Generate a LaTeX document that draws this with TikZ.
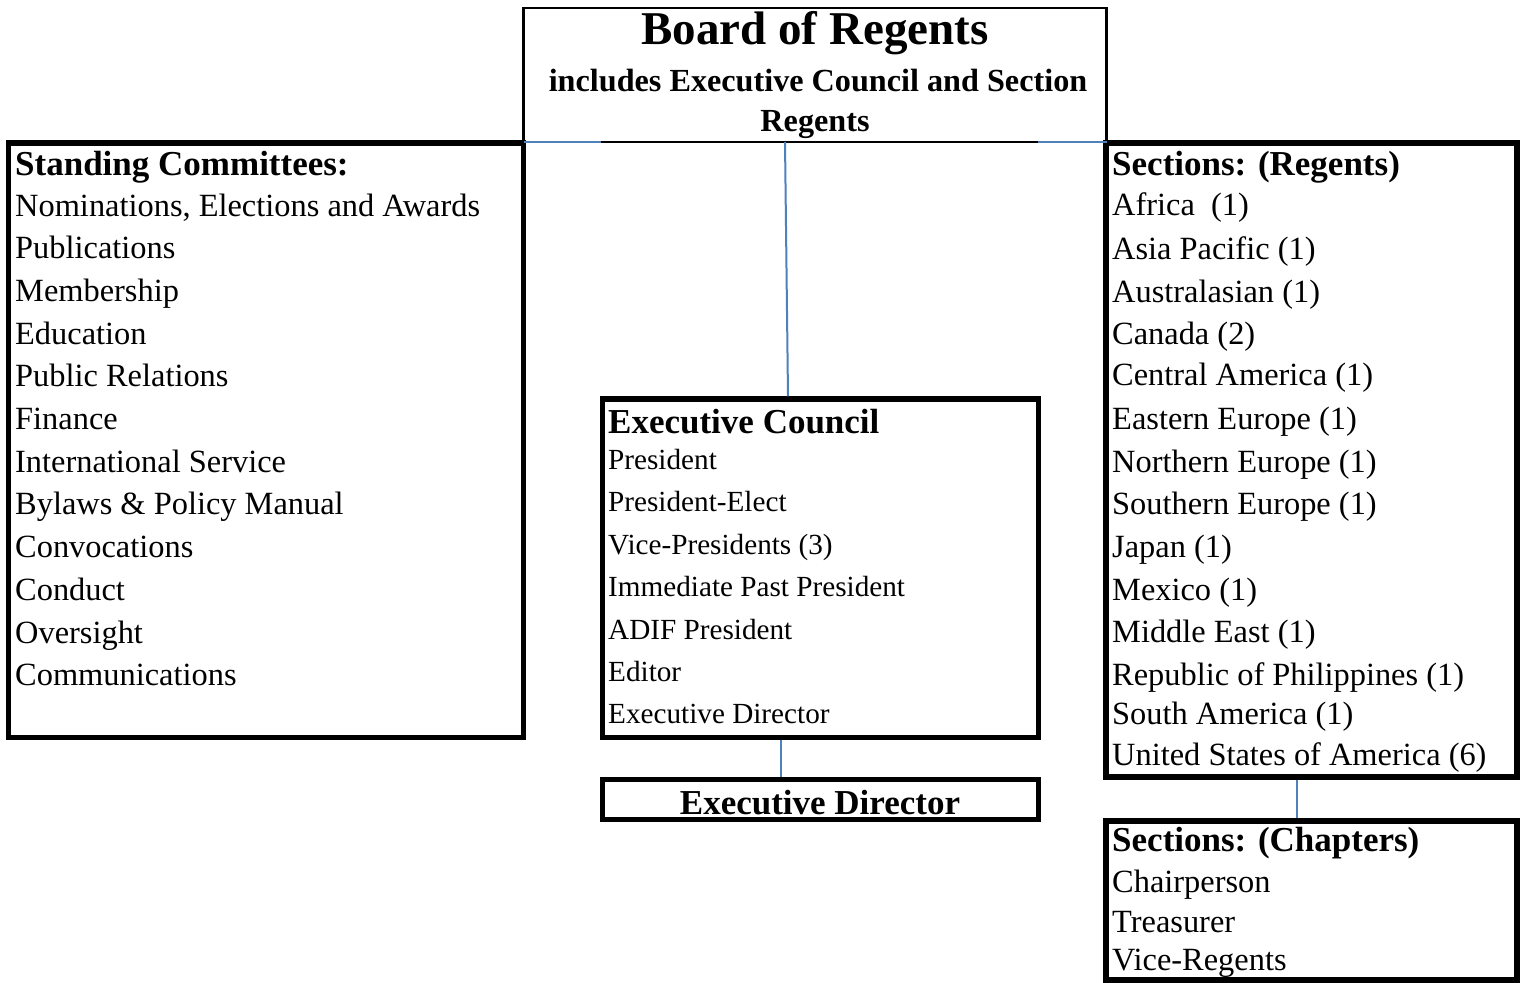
\documentclass[tikz,border=0pt]{standalone}
\usepackage{fontspec}
\setmainfont{Liberation Serif}
\definecolor{linkblue}{HTML}{4F81BD}
\begin{document}
\begin{tikzpicture}[x=1pt,y=-1pt,
  box/.style={draw=black,line width=5.5pt,inner sep=0pt,outer sep=0pt,anchor=north west},
  thinbox/.style={draw=black,line width=2.5pt,inner sep=0pt,outer sep=0pt,anchor=north west},
  link/.style={draw=linkblue,line width=2pt},
  item/.style={anchor=base west,inner sep=0pt,font=\fontsize{32.4}{38}\selectfont},
  eitem/.style={anchor=base west,inner sep=0pt,font=\fontsize{29.2}{35}\selectfont},
  head/.style={anchor=base west,inner sep=0pt,font=\fontsize{35}{42}\selectfont\bfseries},
  ctext/.style={anchor=base,inner sep=0pt},
]
\useasboundingbox[fill=white] (0,0) rectangle (1525,982);

% boxes
\node[thinbox,minimum width=583pt,minimum height=134pt] (bor) at (523.5,8) {};
\node[box,minimum width=515pt,minimum height=594.5pt] (sc) at (8.5,143) {};
\node[box,minimum width=411pt,minimum height=634pt] (reg) at (1106,143) {};
\node[box,minimum width=436pt,minimum height=338.5pt] (ec) at (602.5,399) {};
\node[box,minimum width=436pt,minimum height=40pt] (ed) at (602.5,779.5) {};
\node[box,minimum width=411pt,minimum height=159pt] (ch) at (1106,821) {};

% board text
\node[ctext,font=\fontsize{47}{50}\selectfont\bfseries] (bt1) at (815,45) {Board of Regents};
\node[ctext,font=\fontsize{32.2}{38}\selectfont\bfseries] (bt2) at (818,91) {includes Executive Council and Section};
\node[ctext,font=\fontsize{32.2}{38}\selectfont\bfseries] (bt3) at (815,131) {Regents};

% standing committees
\node[head] (sch) at (15,175) {Standing Committees:};
\foreach \t [count=\i] in {{Nominations, Elections and Awards},Publications,Membership,Education,{Public Relations},Finance,{International Service},{Bylaws \& Policy Manual},Convocations,Conduct,Oversight,Communications}
  \node[item] (sc\i) at (15,{216+42.7*(\i-1)}) {\t};

% sections regents
\node[head] (regh) at (1112,175) {Sections: (Regents)};
\foreach \t/\y [count=\i] in {{Africa\ \ (1)}/215,{Asia Pacific (1)}/259,{Australasian (1)}/302,{Canada (2)}/344,{Central America (1)}/385,{Eastern Europe (1)}/429,{Northern Europe (1)}/472,{Southern Europe (1)}/514,{Japan (1)}/557,{Mexico (1)}/600,{Middle East (1)}/642,{Republic of Philippines (1)}/685,{South America (1)}/724,{United States of America (6)}/765}
  \node[item] (reg\i) at (1112,\y) {\t};

% executive council
\node[head] (ech) at (608,433) {Executive Council};
\foreach \t [count=\i] in {President,President-Elect,{Vice-Presidents (3)},{Immediate Past President},{ADIF President},Editor,{Executive Director}}
  \node[eitem] (ec\i) at (608,{469.5+42.4*(\i-1)}) {\t};

% executive director
\node[ctext,font=\fontsize{35}{42}\selectfont\bfseries] (edt) at (820,814) {Executive Director};

% chapters
\node[head] (chh) at (1112,851) {Sections: (Chapters)};
\node[item] (ch1) at (1112,892) {Chairperson};
\node[item] (ch2) at (1112,932) {Treasurer};
\node[item] (ch3) at (1112,970) {Vice-Regents};

% connectors
\draw[link] ([xshift=-30pt]bor.south) -- ([xshift=-32.5pt,yshift=2.75pt]ec.north);
\draw[link] ([xshift=-39.5pt,yshift=-2.75pt]ec.south) -- ([xshift=-39.5pt,yshift=2.75pt]ed.north);
\draw[link] ([xshift=-14.5pt,yshift=-2.75pt]reg.south) -- ([xshift=-14.5pt,yshift=2.75pt]ch.north);
\draw[link] (bor.south west) -- ++(77,0);
\draw[link] (bor.south east) -- ++(-69,0);
\end{tikzpicture}
\end{document}
